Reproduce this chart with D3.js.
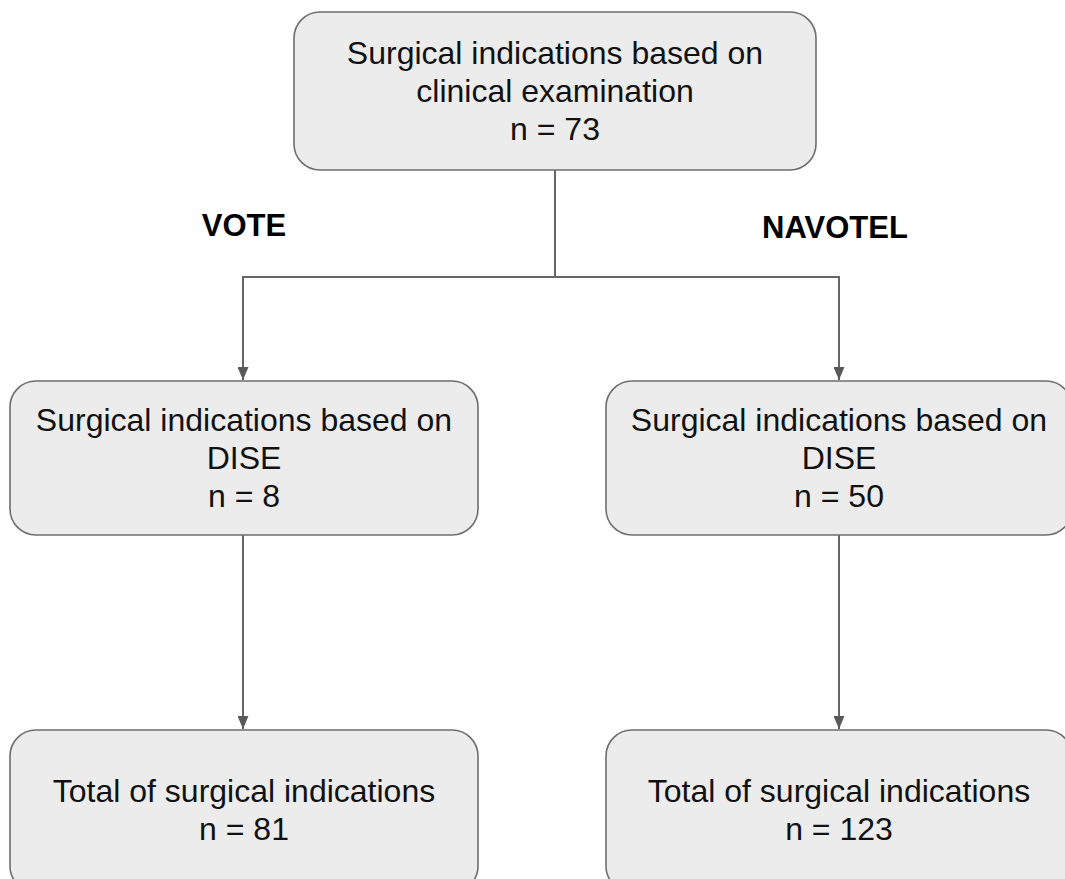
<!DOCTYPE html>
<html><head><meta charset="utf-8">
<script src="https://cdn.jsdelivr.net/npm/d3@7"></script>
<style>html,body{margin:0;padding:0;background:#fff;overflow:hidden;}svg{display:block;}</style>
</head><body><div id="chart"></div>
<script>
// Data
const nodeIds = ["top", "voteDise", "navotelDise", "voteTotal", "navotelTotal"];
const nodeLabels = [
  ["Surgical indications based on", "clinical examination"],
  ["Surgical indications based on", "DISE"],
  ["Surgical indications based on", "DISE"],
  ["Total of surgical indications"],
  ["Total of surgical indications"]
];
const nodeCounts = [73, 8, 50, 81, 123];
const branchLabels = ["VOTE", "NAVOTEL"];
const links = [["top","voteDise"],["top","navotelDise"],["voteDise","voteTotal"],["navotelDise","navotelTotal"]];

// Layout (positions kept separate from data)
const W = 1065, H = 879;
const layout = {
  top:          {x0: 294, x1: 816, y0: 12,  y1: 170, cx: 555, ty: 91},
  voteDise:     {x0: 10,  x1: 478, y0: 381, y1: 535, cx: 243, ty: 458},
  navotelDise:  {x0: 606, x1: 1072, y0: 381, y1: 535, cx: 839, ty: 458},
  voteTotal:    {x0: 10,  x1: 478, y0: 730, y1: 892, cx: 243, ty: 810},
  navotelTotal: {x0: 606, x1: 1072, y0: 730, y1: 892, cx: 839, ty: 810}
};
const branchY = 277;
const branchLabelPos = [{x: 244, y: 225}, {x: 835, y: 227}];

const svg = d3.select("#chart").append("svg").attr("width", W).attr("height", H);
const defs = svg.append("defs");
defs.append("marker").attr("id","arr").attr("viewBox","0 0 13 11")
  .attr("refX",13).attr("refY",5.5).attr("markerWidth",13).attr("markerHeight",11)
  .attr("markerUnits","userSpaceOnUse").attr("orient","auto")
  .append("path").attr("d","M0,0 L13,5.5 L0,11 Z").attr("fill","#595959");

const lineColor = "#666666";
const linkG = svg.append("g");
links.forEach(([s,t]) => {
  const a = layout[s], b = layout[t];
  const d = (s === "top")
    ? `M${a.cx},${a.y1} V${branchY} H${b.cx} V${b.y0 - 1}`
    : `M${a.cx},${a.y1} V${b.y0 - 1}`;
  linkG.append("path").attr("d", d).attr("fill","none")
    .attr("stroke", lineColor).attr("stroke-width", 2)
    .attr("marker-end","url(#arr)");
});

// Nodes
const nodes = nodeIds.map((id,i) => ({id, lines: nodeLabels[i].concat([`n = ${nodeCounts[i]}`]), ...layout[id]}));
const ng = svg.append("g").selectAll("g").data(nodes).join("g");
ng.append("rect")
  .attr("x", d => d.x0).attr("y", d => d.y0)
  .attr("width", d => d.x1 - d.x0).attr("height", d => d.y1 - d.y0)
  .attr("rx", 26).attr("ry", 26)
  .attr("fill", "#ececec").attr("stroke", "#6e6e6e").attr("stroke-width", 1.6);
const lh = 38;
ng.each(function(d){
  const g = d3.select(this);
  const n = d.lines.length;
  const cx = (d.x0 + d.x1) / 2;
  d.lines.forEach((ln, i) => {
    g.append("text").attr("x", cx)
      .attr("y", d.ty + (i - (n - 1) / 2) * lh)
      .attr("dy", "0.35em")
      .attr("text-anchor", "middle")
      .attr("font-family", "Liberation Sans, Arial, sans-serif")
      .attr("font-size", 32).attr("fill", "#111")
      .text(ln);
  });
});

// Branch labels
svg.append("g").selectAll("text").data(branchLabels).join("text")
  .attr("x", (d,i) => branchLabelPos[i].x).attr("y", (d,i) => branchLabelPos[i].y)
  .attr("dy","0.35em").attr("text-anchor","middle")
  .attr("font-family","Liberation Sans, Arial, sans-serif")
  .attr("font-weight","bold").attr("font-size", 31).attr("fill","#000")
  .text(d => d);
</script></body></html>
